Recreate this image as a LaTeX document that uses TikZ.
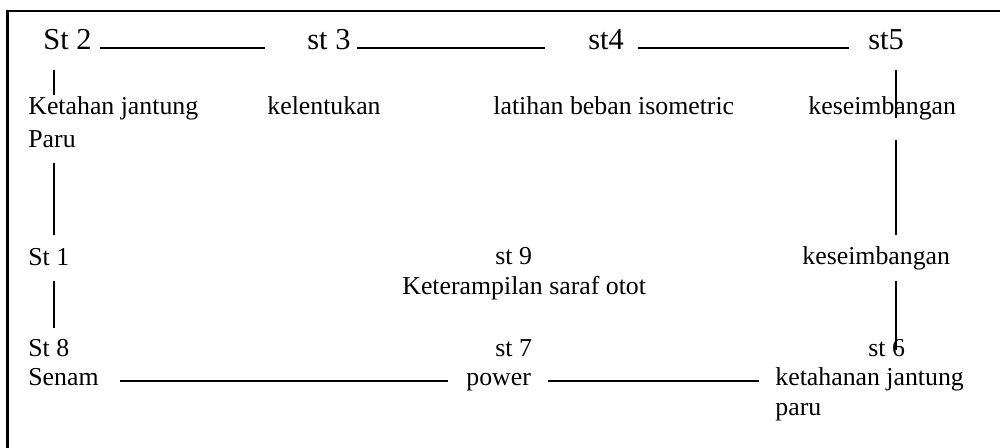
\documentclass[tikz,border=0pt]{standalone}
\usepackage{fontspec}
\setmainfont{Liberation Serif}
\begin{document}
\begin{tikzpicture}[x=0.5pt,y=-0.5pt,
  lbl/.style={anchor=base west,inner sep=0pt,font=\fontsize{12.9}{15}\selectfont},
  big/.style={anchor=base west,inner sep=0pt,font=\fontsize{15.2}{18}\selectfont},
  conn/.style={line width=1pt},
  frame/.style={line width=1.1pt}]
\useasboundingbox (0,0) rectangle (1000,448);
% frame
\draw[frame] (7.5,470) -- (7.5,11) -- (1020,11);
% top row
\node[big] (s2) at (43,50) {St 2};
\node[big] (s3) at (307,50) {st 3};
\node[big] (s4) at (588,50) {st4};
\node[big] (s5) at (868,50) {st5};
% row 2
\node[lbl] (kj) at (28,115) {Ketahan jantung};
\node[lbl] (paru1) at (28,148) {Paru};
\node[lbl] (kel) at (267,115) {kelentukan};
\node[lbl] (lat) at (493,115) {latihan beban isometric};
\node[lbl] (kes1) at (808,115) {keseimbangan};
% middle row
\node[lbl] (s1) at (28,266) {St 1};
\node[lbl] (s9) at (495,265) {st 9};
\node[lbl] (ket) at (402,295) {Keterampilan saraf otot};
\node[lbl] (kes2) at (802,265) {keseimbangan};
% bottom row
\node[lbl] (s8) at (28,357) {St 8};
\node[lbl] (sen) at (28,386) {Senam};
\node[lbl] (s7) at (495,357) {st 7};
\node[lbl] (pow) at (466,386) {power};
\node[lbl] (s6) at (868,357) {st 6};
\node[lbl] (kjp) at (775,386) {ketahanan jantung};
\node[lbl] (paru2) at (775,415) {paru};
% connector end points
\coordinate (a1) at (100,48); \coordinate (a2) at (265,48);
\coordinate (b1) at (357,48); \coordinate (b2) at (545,48);
\coordinate (c1) at (638,48); \coordinate (c2) at (849,48);
\coordinate (d1) at (120,381); \coordinate (d2) at (448,381);
\coordinate (e1) at (548,381); \coordinate (e2) at (759,381);
\coordinate (l1) at (54,70); \coordinate (l2) at (54,95);
\coordinate (l3) at (54,163); \coordinate (l4) at (54,235);
\coordinate (l5) at (54,281); \coordinate (l6) at (54,328);
\coordinate (r1) at (896,70); \coordinate (r2) at (896,118);
\coordinate (r3) at (896,140); \coordinate (r4) at (896,235);
\coordinate (r5) at (896,281); \coordinate (r6) at (896,350);
\draw[conn] (a1) -- (a2);
\draw[conn] (b1) -- (b2);
\draw[conn] (c1) -- (c2);
\draw[conn] (d1) -- (d2);
\draw[conn] (e1) -- (e2);
\draw[conn] (l1) -- (l2);
\draw[conn] (l3) -- (l4);
\draw[conn] (l5) -- (l6);
\draw[conn] (r1) -- (r2);
\draw[conn] (r3) -- (r4);
\draw[conn] (r5) -- (r6);
\end{tikzpicture}
\end{document}
